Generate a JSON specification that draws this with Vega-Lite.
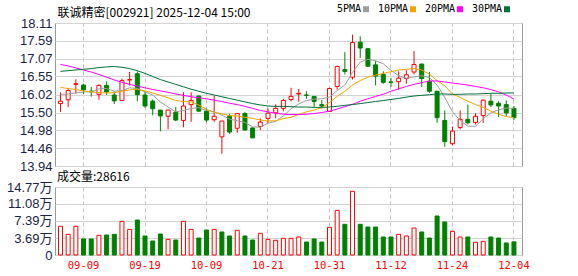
{
  "$schema": "https://vega.github.io/schema/vega-lite/v6.json",
  "padding": {"left": 5, "top": 3, "right": 0, "bottom": 0},
  "background": "#ffffff",
  "spacing": -4,
  "config": {
    "view": {"stroke": "#9a9a9a", "strokeWidth": 1},
    "axis": {"ticks": false, "domain": false},
    "axisY": {"labelFont": "Liberation Sans, Noto Sans CJK SC", "labelFontSize": 13, "labelColor": "#1b2448", "labelPadding": 3, "gridColor": "#d3d3d3", "gridWidth": 1, "labelOverlap": false, "tickCount": 20},
    "axisX": {"grid": true, "gridDash": [4, 3], "gridColor": "#c4c4c4", "labelAngle": 0, "labelFont": "DejaVu Sans Mono", "labelFontSize": 10.5, "labelColor": "#ff0000", "labelPadding": 5, "bandPosition": 0.5, "labelOverlap": false},
    "title": {"font": "Noto Sans CJK SC", "fontSize": 12, "fontWeight": "normal", "color": "#000000", "anchor": "start", "frame": "group"}
  },
  "data": {"values": [
    {"d":"09-04","o":15.76,"h":16.09,"l":15.52,"c":15.83,"v":6.23,"vup":true,"5PMA":16.03,"10PMA":16.23,"20PMA":16.90,"30PMA":16.70},
    {"d":"09-05","o":15.87,"h":16.20,"l":15.66,"c":16.14,"v":4.49,"vup":true,"5PMA":16.04,"10PMA":16.20,"20PMA":16.86,"30PMA":16.72},
    {"d":"09-08","o":16.32,"h":16.47,"l":16.05,"c":16.34,"v":6.23,"vup":true,"5PMA":16.07,"10PMA":16.17,"20PMA":16.80,"30PMA":16.74},
    {"d":"09-09","o":16.30,"h":16.34,"l":16.04,"c":16.16,"v":3.48,"vup":false,"5PMA":16.10,"10PMA":16.13,"20PMA":16.74,"30PMA":16.76},
    {"d":"09-10","o":16.12,"h":16.24,"l":15.96,"c":16.11,"v":3.48,"vup":false,"5PMA":16.10,"10PMA":16.10,"20PMA":16.68,"30PMA":16.78},
    {"d":"09-11","o":16.03,"h":16.32,"l":15.87,"c":16.29,"v":4.27,"vup":true,"5PMA":16.19,"10PMA":16.08,"20PMA":16.61,"30PMA":16.81},
    {"d":"09-12","o":16.29,"h":16.41,"l":16.01,"c":16.10,"v":4.34,"vup":false,"5PMA":16.20,"10PMA":16.07,"20PMA":16.53,"30PMA":16.83},
    {"d":"09-15","o":16.01,"h":16.12,"l":15.75,"c":15.84,"v":4.49,"vup":false,"5PMA":16.12,"10PMA":16.08,"20PMA":16.45,"30PMA":16.84},
    {"d":"09-16","o":15.85,"h":16.49,"l":15.84,"c":16.43,"v":7.31,"vup":true,"5PMA":16.14,"10PMA":16.12,"20PMA":16.38,"30PMA":16.82},
    {"d":"09-17","o":16.45,"h":16.68,"l":16.29,"c":16.46,"v":5.57,"vup":true,"5PMA":16.22,"10PMA":16.16,"20PMA":16.32,"30PMA":16.78},
    {"d":"09-18","o":16.63,"h":16.70,"l":15.83,"c":16.02,"v":7.60,"vup":false,"5PMA":16.20,"10PMA":16.18,"20PMA":16.27,"30PMA":16.72},
    {"d":"09-19","o":16.01,"h":16.12,"l":15.64,"c":15.69,"v":4.13,"vup":false,"5PMA":16.10,"10PMA":16.13,"20PMA":16.22,"30PMA":16.64},
    {"d":"09-22","o":15.83,"h":15.88,"l":15.42,"c":15.61,"v":3.04,"vup":false,"5PMA":16.01,"10PMA":16.07,"20PMA":16.17,"30PMA":16.55},
    {"d":"09-23","o":15.57,"h":15.58,"l":14.95,"c":15.40,"v":4.56,"vup":false,"5PMA":15.81,"10PMA":16.00,"20PMA":16.13,"30PMA":16.46},
    {"d":"09-24","o":15.39,"h":15.58,"l":15.01,"c":15.57,"v":3.40,"vup":true,"5PMA":15.66,"10PMA":15.93,"20PMA":16.09,"30PMA":16.39},
    {"d":"09-25","o":15.51,"h":15.66,"l":15.25,"c":15.28,"v":3.26,"vup":false,"5PMA":15.52,"10PMA":15.85,"20PMA":16.04,"30PMA":16.32},
    {"d":"09-26","o":15.27,"h":16.09,"l":15.07,"c":15.69,"v":7.31,"vup":true,"5PMA":15.56,"10PMA":15.82,"20PMA":16.00,"30PMA":16.25},
    {"d":"09-29","o":15.73,"h":16.09,"l":15.23,"c":15.85,"v":5.57,"vup":true,"5PMA":15.62,"10PMA":15.81,"20PMA":15.96,"30PMA":16.18},
    {"d":"09-30","o":15.98,"h":16.00,"l":15.52,"c":15.54,"v":3.69,"vup":false,"5PMA":15.64,"10PMA":15.72,"20PMA":15.93,"30PMA":16.12},
    {"d":"10-09","o":15.54,"h":15.62,"l":15.22,"c":15.28,"v":5.43,"vup":false,"5PMA":15.56,"10PMA":15.59,"20PMA":15.90,"30PMA":16.06},
    {"d":"10-10","o":15.29,"h":15.99,"l":15.23,"c":15.39,"v":5.57,"vup":true,"5PMA":15.52,"10PMA":15.51,"20PMA":15.86,"30PMA":16.01},
    {"d":"10-13","o":14.79,"h":15.26,"l":14.30,"c":15.25,"v":5.00,"vup":false,"5PMA":15.42,"10PMA":15.46,"20PMA":15.82,"30PMA":15.96},
    {"d":"10-14","o":15.39,"h":15.46,"l":14.88,"c":14.93,"v":4.13,"vup":false,"5PMA":15.31,"10PMA":15.41,"20PMA":15.77,"30PMA":15.91},
    {"d":"10-15","o":15.04,"h":15.48,"l":14.91,"c":15.47,"v":5.36,"vup":true,"5PMA":15.26,"10PMA":15.40,"20PMA":15.73,"30PMA":15.86},
    {"d":"10-16","o":15.47,"h":15.52,"l":14.98,"c":14.99,"v":4.13,"vup":false,"5PMA":15.21,"10PMA":15.36,"20PMA":15.68,"30PMA":15.81},
    {"d":"10-17","o":15.05,"h":15.06,"l":14.76,"c":14.76,"v":3.26,"vup":false,"5PMA":15.08,"10PMA":15.33,"20PMA":15.62,"30PMA":15.76},
    {"d":"10-20","o":15.09,"h":15.33,"l":14.99,"c":15.22,"v":4.71,"vup":true,"5PMA":15.07,"10PMA":15.28,"20PMA":15.56,"30PMA":15.72},
    {"d":"10-21","o":15.33,"h":15.62,"l":15.20,"c":15.48,"v":3.40,"vup":true,"5PMA":15.19,"10PMA":15.25,"20PMA":15.52,"30PMA":15.69},
    {"d":"10-22","o":15.49,"h":15.74,"l":15.33,"c":15.62,"v":3.19,"vup":true,"5PMA":15.24,"10PMA":15.26,"20PMA":15.48,"30PMA":15.68},
    {"d":"10-23","o":15.62,"h":15.90,"l":15.54,"c":15.85,"v":3.62,"vup":true,"5PMA":15.40,"10PMA":15.32,"20PMA":15.45,"30PMA":15.68},
    {"d":"10-24","o":15.88,"h":16.22,"l":15.83,"c":15.97,"v":3.62,"vup":true,"5PMA":15.61,"10PMA":15.36,"20PMA":15.44,"30PMA":15.67},
    {"d":"10-27","o":16.04,"h":16.19,"l":15.81,"c":16.06,"v":3.91,"vup":true,"5PMA":15.75,"10PMA":15.44,"20PMA":15.44,"30PMA":15.66},
    {"d":"10-28","o":16.01,"h":16.12,"l":15.90,"c":16.00,"v":2.82,"vup":false,"5PMA":15.85,"10PMA":15.52,"20PMA":15.45,"30PMA":15.66},
    {"d":"10-29","o":15.97,"h":15.98,"l":15.66,"c":15.82,"v":3.48,"vup":false,"5PMA":15.89,"10PMA":15.57,"20PMA":15.47,"30PMA":15.65},
    {"d":"10-30","o":15.73,"h":15.86,"l":15.62,"c":15.69,"v":2.82,"vup":false,"5PMA":15.90,"10PMA":15.64,"20PMA":15.50,"30PMA":15.65},
    {"d":"10-31","o":15.53,"h":16.22,"l":15.52,"c":16.20,"v":6.01,"vup":true,"5PMA":15.95,"10PMA":15.79,"20PMA":15.54,"30PMA":15.66},
    {"d":"11-03","o":16.26,"h":16.87,"l":16.17,"c":16.84,"v":9.70,"vup":true,"5PMA":16.14,"10PMA":15.97,"20PMA":15.60,"30PMA":15.68},
    {"d":"11-04","o":16.75,"h":17.26,"l":16.61,"c":16.70,"v":6.66,"vup":false,"5PMA":16.30,"10PMA":16.12,"20PMA":15.67,"30PMA":15.71},
    {"d":"11-05","o":16.53,"h":17.77,"l":16.46,"c":17.54,"v":13.83,"vup":true,"5PMA":16.67,"10PMA":16.30,"20PMA":15.74,"30PMA":15.73},
    {"d":"11-06","o":17.55,"h":17.72,"l":17.09,"c":17.38,"v":6.66,"vup":false,"5PMA":16.97,"10PMA":16.43,"20PMA":15.83,"30PMA":15.76},
    {"d":"11-07","o":17.36,"h":17.37,"l":16.83,"c":16.85,"v":6.08,"vup":false,"5PMA":17.05,"10PMA":16.53,"20PMA":15.90,"30PMA":15.79},
    {"d":"11-10","o":16.89,"h":17.00,"l":16.29,"c":16.56,"v":6.08,"vup":false,"5PMA":17.01,"10PMA":16.59,"20PMA":15.97,"30PMA":15.82},
    {"d":"11-11","o":16.61,"h":16.70,"l":16.34,"c":16.38,"v":3.91,"vup":false,"5PMA":16.92,"10PMA":16.64,"20PMA":16.03,"30PMA":15.85},
    {"d":"11-12","o":16.39,"h":16.51,"l":16.25,"c":16.38,"v":3.91,"vup":false,"5PMA":16.73,"10PMA":16.69,"20PMA":16.12,"30PMA":15.88},
    {"d":"11-13","o":16.40,"h":16.70,"l":16.17,"c":16.50,"v":4.49,"vup":true,"5PMA":16.57,"10PMA":16.74,"20PMA":16.19,"30PMA":15.91},
    {"d":"11-14","o":16.49,"h":16.73,"l":16.34,"c":16.60,"v":4.13,"vup":true,"5PMA":16.50,"10PMA":16.76,"20PMA":16.26,"30PMA":15.95},
    {"d":"11-17","o":16.68,"h":17.29,"l":16.61,"c":16.90,"v":5.86,"vup":true,"5PMA":16.54,"10PMA":16.78,"20PMA":16.32,"30PMA":15.98},
    {"d":"11-18","o":16.91,"h":16.93,"l":16.25,"c":16.49,"v":5.00,"vup":false,"5PMA":16.57,"10PMA":16.74,"20PMA":16.37,"30PMA":16.00},
    {"d":"11-19","o":16.41,"h":16.68,"l":16.07,"c":16.12,"v":3.69,"vup":false,"5PMA":16.52,"10PMA":16.62,"20PMA":16.42,"30PMA":16.02},
    {"d":"11-20","o":16.12,"h":16.13,"l":15.20,"c":15.35,"v":8.47,"vup":false,"5PMA":16.30,"10PMA":16.43,"20PMA":16.42,"30PMA":16.04},
    {"d":"11-21","o":15.27,"h":15.56,"l":14.50,"c":14.65,"v":7.17,"vup":false,"5PMA":15.94,"10PMA":16.28,"20PMA":16.39,"30PMA":16.04},
    {"d":"11-24","o":14.59,"h":15.09,"l":14.54,"c":14.96,"v":5.14,"vup":true,"5PMA":15.52,"10PMA":16.04,"20PMA":16.36,"30PMA":16.03},
    {"d":"11-25","o":15.06,"h":15.56,"l":15.01,"c":15.30,"v":3.91,"vup":true,"5PMA":15.27,"10PMA":15.94,"20PMA":16.33,"30PMA":16.03},
    {"d":"11-26","o":15.30,"h":15.73,"l":15.15,"c":15.20,"v":3.91,"vup":false,"5PMA":15.10,"10PMA":15.83,"20PMA":16.30,"30PMA":16.04},
    {"d":"11-27","o":15.21,"h":15.48,"l":15.15,"c":15.39,"v":2.75,"vup":true,"5PMA":15.10,"10PMA":15.73,"20PMA":16.26,"30PMA":16.04},
    {"d":"11-28","o":15.41,"h":15.88,"l":15.20,"c":15.86,"v":2.97,"vup":true,"5PMA":15.32,"10PMA":15.65,"20PMA":16.22,"30PMA":16.05},
    {"d":"12-01","o":15.83,"h":16.05,"l":15.66,"c":15.72,"v":3.91,"vup":false,"5PMA":15.49,"10PMA":15.54,"20PMA":16.17,"30PMA":16.06},
    {"d":"12-02","o":15.77,"h":15.83,"l":15.37,"c":15.69,"v":3.69,"vup":false,"5PMA":15.58,"10PMA":15.45,"20PMA":16.10,"30PMA":16.06},
    {"d":"12-03","o":15.73,"h":15.85,"l":15.39,"c":15.49,"v":2.61,"vup":false,"5PMA":15.63,"10PMA":15.38,"20PMA":16.01,"30PMA":16.07},
    {"d":"12-04","o":15.62,"h":15.69,"l":15.28,"c":15.35,"v":2.86,"vup":false,"5PMA":15.62,"10PMA":15.35,"20PMA":15.89,"30PMA":16.07}
  ]},
  "resolve": {"scale": {"color": "independent"}, "legend": {"color": "independent"}},
  "vconcat": [
    {
      "width": 467,
      "height": 143,
      "encoding": {
        "x": {"field": "d", "type": "ordinal", "sort": null,
              "scale": {"paddingInner": 0, "paddingOuter": 0.38, "align": 0.28},
              "axis": {"orient": "top", "values": ["09-09","09-19","10-09","10-21","10-31","11-12","11-24","12-04"], "labels": false,
                       "title": "联诚精密[002921] 2025-12-04 15:00", "titleFont": "Noto Sans CJK SC", "titleFontSize": 12, "titleFontWeight": "normal",
                       "titleColor": "#000000", "titleAnchor": "start", "titleAlign": "left", "titleBaseline": "middle", "titleX": 2, "titleY": -11}}
      },
      "layer": [
        {
          "mark": {"type": "rule", "strokeWidth": 1},
          "encoding": {
            "y": {"field": "l", "type": "quantitative", "scale": {"domain": [13.94, 18.11], "nice": false, "zero": false},
                  "axis": {"values": [13.94, 14.46, 14.98, 15.50, 16.02, 16.55, 17.07, 17.59, 18.11], "format": ".2f", "title": null, "labelOverlap": false, "tickCount": 20}},
            "y2": {"field": "h"},
            "color": {"condition": {"test": "datum.c >= datum.o", "value": "#ff0000"}, "value": "#008000"}
          }
        },
        {
          "mark": {"type": "bar", "size": 4, "strokeWidth": 1},
          "encoding": {
            "y": {"field": "o", "type": "quantitative", "scale": {"domain": [13.94, 18.11], "nice": false, "zero": false}, "axis": {"title": null, "labelOverlap": false, "tickCount": 20}},
            "y2": {"field": "c"},
            "fill": {"condition": {"test": "datum.c >= datum.o", "value": "#ffffff"}, "value": "#008000"},
            "stroke": {"condition": {"test": "datum.c >= datum.o", "value": "#ff0000"}, "value": "#008000"}
          }
        },
        {
          "transform": [{"fold": ["5PMA", "10PMA", "20PMA", "30PMA"], "as": ["ma", "mv"]}],
          "mark": {"type": "line", "strokeWidth": 1},
          "encoding": {
            "y": {"field": "mv", "type": "quantitative", "scale": {"domain": [13.94, 18.11], "nice": false, "zero": false}, "axis": {"title": null, "labelOverlap": false, "tickCount": 20}},
            "color": {"field": "ma", "type": "nominal",
                      "scale": {"domain": ["5PMA", "10PMA", "20PMA", "30PMA"], "range": ["#9e9e9e", "#f5a300", "#ff00ff", "#00703a"]},
                      "legend": {"orient": "none", "legendX": 282, "legendY": -19, "direction": "horizontal", "title": null, "padding": 0,
                                 "symbolType": "square", "symbolSize": 9, "symbolStrokeWidth": 3,
                                 "labelFont": "DejaVu Sans Mono", "labelFontSize": 10, "labelColor": "#000000", "columnPadding": 4,
                                 "encode": {"symbols": {"update": {"x": {"signal": "length(datum.label) * 6 + 5"}}},
                                            "labels": {"update": {"x": {"value": 0}, "align": {"value": "left"}}}}}}
          }
        }
      ]
    },
    {
      "width": 467,
      "height": 68,
      "title": {"text": "成交量:28616", "offset": -3, "dx": 2},
      "mark": {"type": "bar", "size": 4, "strokeWidth": 1},
      "encoding": {
        "x": {"field": "d", "type": "ordinal", "sort": null,
              "scale": {"paddingInner": 0, "paddingOuter": 0.38, "align": 0.28},
              "axis": {"values": ["09-09","09-19","10-09","10-21","10-31","11-12","11-24","12-04"], "title": null}},
        "y": {"field": "v", "type": "quantitative", "scale": {"domain": [0, 14.77], "nice": false},
              "axis": {"values": [0, 3.69, 7.39, 11.08, 14.77], "labelExpr": "datum.value == 0 ? '0' : format(datum.value, '.2f') + '万'", "title": null, "labelOverlap": false, "tickCount": 20}},
        "fill": {"condition": {"test": "datum.vup", "value": "#ffffff"}, "value": "#008000"},
        "stroke": {"condition": {"test": "datum.vup", "value": "#ff0000"}, "value": "#008000"}
      }
    }
  ]
}
